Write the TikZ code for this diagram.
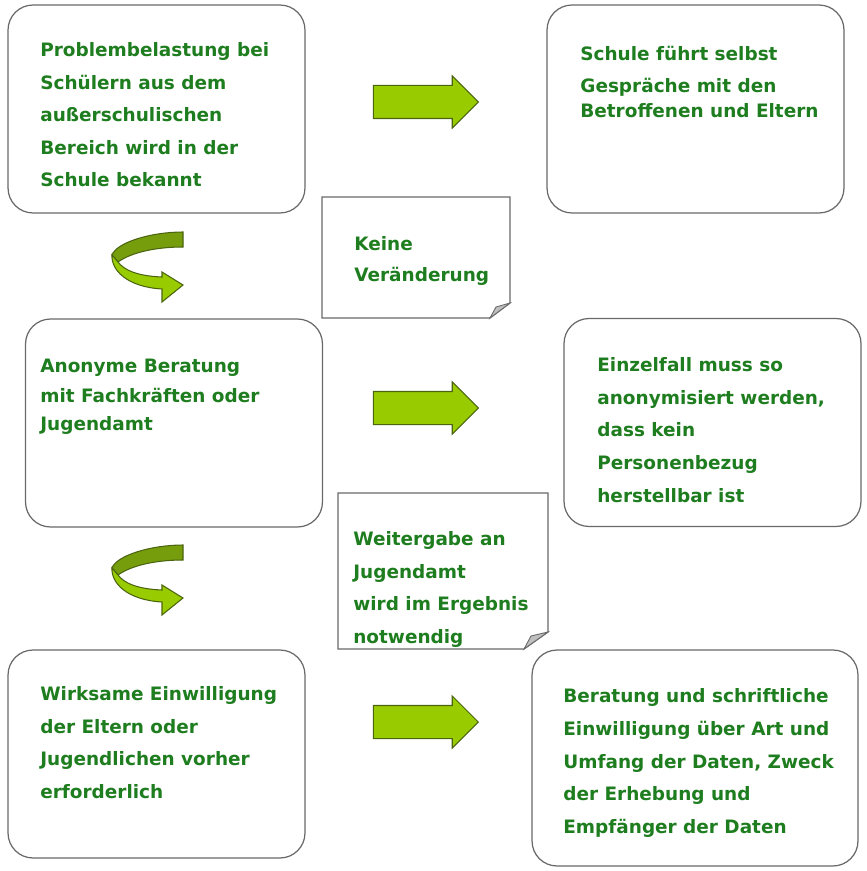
\documentclass[tikz,border=0pt]{standalone}
\usepackage{fontspec}
\setmainfont{DejaVu Sans}
\usepackage{xcolor}
\usetikzlibrary{shapes.arrows}
\definecolor{txtgreen}{RGB}{30,125,30}
\definecolor{arrowlime}{RGB}{153,204,0}
\definecolor{arrowdark}{RGB}{118,158,12}
\definecolor{arrowedge}{RGB}{75,100,15}
\definecolor{boxgray}{RGB}{105,105,105}

\begin{document}
\begin{tikzpicture}[x=0.02cm,y=-0.02cm,
  box/.style={draw=boxgray,fill=white,line width=0.7pt,rounded corners=0.5cm,minimum width=5.94cm,minimum height=4.16cm},
  txt/.style={text=txtgreen,font=\bfseries\fontsize{10.5}{18.5}\selectfont,align=left,inner sep=0pt,anchor=base west},
  note/.style={draw=boxgray,fill=white,line width=0.7pt},
  curl/.style={draw=boxgray,fill=black!25,line width=0.5pt},
  blockarrow/.style={single arrow,draw=arrowedge,fill=arrowlime,line width=0.6pt,inner xsep=0pt,inner ysep=0.32cm,
    minimum height=2.1cm,single arrow head extend=0.19cm},
  turn/.style={draw=arrowedge,line width=0.6pt}]

    \useasboundingbox (0,0) rectangle (866,871);

    % The boxes
	\node [box] at (156.5,109) (problem) {};
	\node [box] at (695.5,109) (schule) {};
	\node [box] at (174,423) (anonym) {};
	\node [box] at (712.5,422.5) (einzelfall) {};
	\node [box] at (156.5,754) (einwilligung) {};
	\node [box,minimum width=6.52cm,minimum height=4.32cm] at (695,758) (beratung) {};

	% Box texts (placed at the baseline of their last line)
	\node [txt] at (40,187) (problemtxt) {Problembelastung bei\\Schülern aus dem\\außerschulischen\\Bereich wird in der\\Schule bekannt};
	\node [txt] at (580,118) (schuletxt) {Schule führt selbst\\Gespräche mit den\\[-4pt]Betroffenen und Eltern};
	\node [txt] at (40,430) (anonymtxt) {Anonyme Beratung\\[-1pt]mit Fachkräften oder\\[-3pt]Jugendamt};
	\node [txt] at (597,502) (einzelfalltxt) {Einzelfall muss so\\anonymisiert werden,\\dass kein\\Personenbezug\\herstellbar ist};
	\node [txt] at (40,798) (einwilligungtxt) {Wirksame Einwilligung\\der Eltern oder\\Jugendlichen vorher\\erforderlich};
	\node [txt] at (563,833) (beratungtxt) {Beratung und schriftliche\\Einwilligung über Art und\\Umfang der Daten, Zweck\\der Erhebung und\\Empfänger der Daten};

	% Notes with folded corner
	\draw [note] (322,197) -- (510,197) -- (510,303) -- (490,318) -- (322,318) -- cycle;
	\draw [curl] (490,318) -- (510,303) -- (496,307) -- cycle;
	\node [txt] at (354,281) (keine) {Keine\\[-1pt]Veränderung};

	\draw [note] (338,493) -- (548,493) -- (548,632) -- (524,649) -- (338,649) -- cycle;
	\draw [curl] (524,649) -- (548,632) -- (531,636) -- cycle;
	\begin{scope}
	  \clip (338,493) rectangle (548,648);
	  \node [txt] at (353,643) (weitergabe) {Weitergabe an\\Jugendamt\\wird im Ergebnis\\notwendig};
	\end{scope}

	% Block arrows
	\node [blockarrow] at (417.5,102) (arrowtop) {};
	\node [blockarrow] at (417.5,408) (arrowmid) {};
	\node [blockarrow] at (417.5,722) (arrowbot) {};

	% Turning arrows
	\foreach \yy in {232,545} {
	  \begin{scope}[shift={(112,\yy)}]
	    \draw [turn,fill=arrowdark] (71,0) .. controls (40,0) and (5,10) .. (0,23) -- (6,30)
	      .. controls (20,20) and (45,15) .. (71,15) -- cycle;
	    \draw [turn,fill=arrowlime] (0,23) .. controls (-1,38) and (15,55) .. (50,57) -- (50,70) -- (71,53)
	      -- (50,40) -- (50,45) .. controls (25,44) and (12,38) .. (6,30) -- cycle;
	  \end{scope}
	}

\end{tikzpicture}
\end{document}
